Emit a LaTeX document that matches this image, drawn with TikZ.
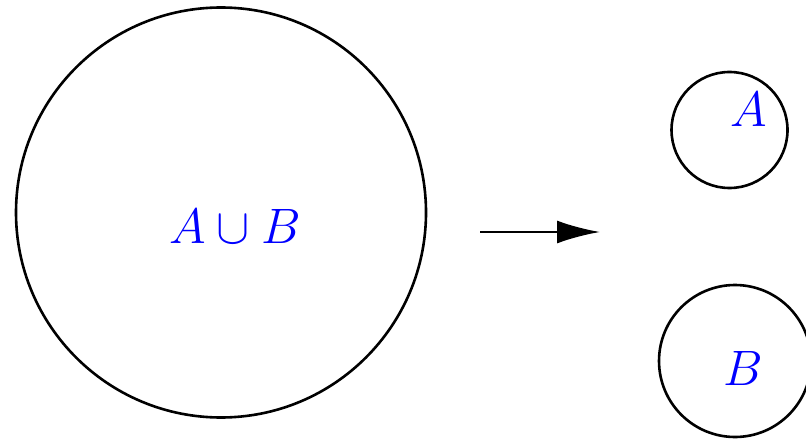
\documentclass[tikz,border=0pt]{standalone}
\usetikzlibrary{arrows.meta}
\begin{document}
\begin{tikzpicture}[x=0.5pt,y=-0.5pt,
  setcircle/.style={draw=black,line width=1.3pt,circle,inner sep=0pt},
  setlabel/.style={text=blue,font=\fontsize{23}{28}\selectfont,inner sep=0pt}]
\useasboundingbox (0,0) rectangle (806,438);
\node[setcircle,minimum size=205pt] (U) at (221,212.5) {};
\node[setcircle,minimum size=58pt] (A) at (729.5,130) {};
\node[setcircle,minimum size=76pt] (B) at (735,361) {};
\node[setlabel] (lu) at (235,226) {$A\cup B$};
\node[setlabel] (la) at (749,110) {$A$};
\node[setlabel] (lb) at (743,368) {$B$};
\coordinate (s) at (480,232);
\coordinate (t) at (600,232);
\draw[line width=1.3pt,-{Latex[length=21.5pt,width=11.5pt]}] (s) -- (t);
\end{tikzpicture}
\end{document}
